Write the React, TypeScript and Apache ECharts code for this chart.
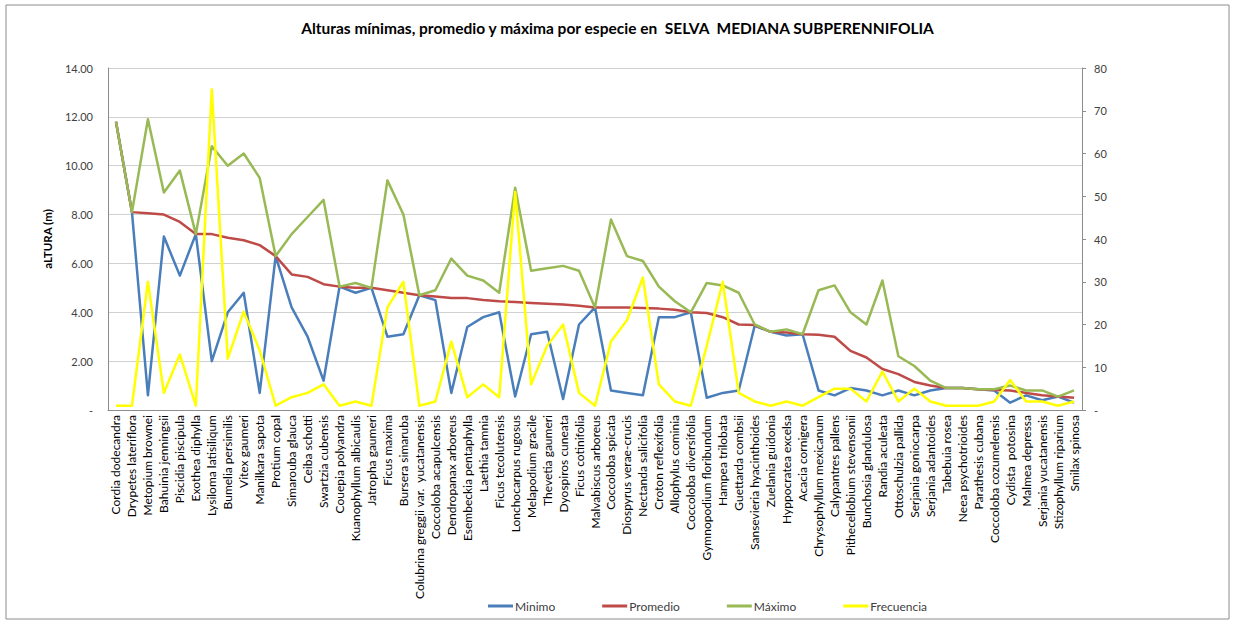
import React, { useEffect, useRef } from "react";
import * as echarts from "echarts";

const categories = [
  "Cordia dodecandra", "Drypetes lateriflora", "Metopium brownei", "Bahuinia jenningsii",
  "Piscidia piscipula", "Exothea diphylla", "Lysiloma latisiliqum", "Bumelia persimilis",
  "Vitex gaumeri", "Manilkara sapota", "Protium copal", "Simarouba glauca", "Ceiba schotti",
  "Swartzia cubensis", "Couepia polyandra", "Kuanophyllum albicaulis", "Jatropha gaumeri",
  "Ficus maxima", "Bursera simaruba", "Colubrina greggii var.  yucatanensis",
  "Coccoloba acapulcensis", "Dendropanax arboreus", "Esembeckia pentaphylla", "Laethia tamnia",
  "Ficus tecolutensis", "Lonchocarpus rugosus", "Melapodium gracile", "Thevetia gaumeri",
  "Dyospiros cuneata", "Ficus cotinifolia", "Malvabiscus arboreus", "Coccoloba spicata",
  "Diospyrus verae-crucis", "Nectanda salicifolia", "Croton reflexifolia", "Allophylus cominia",
  "Coccoloba diversifolia", "Gymnopodium floribundum", "Hampea trilobata", "Guettarda combsii",
  "Sansevieria hyacinthoides", "Zuelania guidonia", "Hyppocratea excelsa", "Acacia cornigera",
  "Chrysophyllum mexicanum", "Calypantres pallens", "Pithecellobium stevensonii",
  "Bunchosia glandulosa", "Randia aculeata", "Ottoschulzia pallida", "Serjania goniocarpa",
  "Serjania adantoides", "Tabebuia rosea", "Neea psychotrioides", "Parathesis cubana",
  "Coccoloba cozumelensis", "Cydista  potosina", "Malmea depressa", "Serjania yucatanensis",
  "Stizophyllum riparium", "Smilax spinosa",
];

const minimo = [
  11.8, 8.1, 0.6, 7.1, 5.5, 7.2, 2.0, 4.0, 4.8, 0.7,
  6.3, 4.2, 3.0, 1.2, 5.05, 4.8, 5.0, 3.0, 3.1, 4.7,
  4.5, 0.7, 3.4, 3.8, 4.0, 0.55, 3.1, 3.2, 0.45, 3.5,
  4.2, 0.8, 0.7, 0.6, 3.8, 3.8, 4.0, 0.5, 0.7, 0.8,
  3.45, 3.2, 3.05, 3.1, 0.8, 0.6, 0.9, 0.8, 0.6, 0.8,
  0.6, 0.8, 0.9, 0.9, 0.85, 0.8, 0.3, 0.6, 0.4, 0.55,
  0.3,
];

const promedio = [
  11.8, 8.1, 8.05, 8.0, 7.7, 7.2, 7.2, 7.05, 6.95, 6.75,
  6.3, 5.55, 5.45, 5.15, 5.05, 5.0, 5.0, 4.9, 4.8, 4.7,
  4.65, 4.58, 4.58, 4.5, 4.45, 4.42, 4.38, 4.35, 4.32, 4.27,
  4.2, 4.2, 4.2, 4.18, 4.15, 4.1, 4.0, 3.97, 3.8, 3.5,
  3.48, 3.2, 3.17, 3.1, 3.08, 3.0, 2.42, 2.15, 1.68, 1.47,
  1.15, 1.0, 0.9, 0.9, 0.85, 0.82, 0.8, 0.7, 0.6, 0.55,
  0.5,
];

const maximo = [
  11.8, 8.1, 11.9, 8.9, 9.8, 7.2, 10.8, 10.0, 10.5, 9.5,
  6.3, 7.2, 7.9, 8.6, 5.05, 5.2, 5.0, 9.4, 8.0, 4.7,
  4.9, 6.2, 5.5, 5.3, 4.8, 9.1, 5.7, 5.8, 5.9, 5.7,
  4.2, 7.8, 6.3, 6.1, 5.05, 4.45, 4.0, 5.2, 5.1, 4.8,
  3.5, 3.2, 3.3, 3.1, 4.9, 5.1, 4.0, 3.5, 5.3, 2.2,
  1.8, 1.2, 0.9, 0.9, 0.85, 0.85, 1.0, 0.8, 0.8, 0.55,
  0.8,
];

const frecuencia = [
  1, 1, 30, 4, 13, 1, 75, 12, 23, 14,
  1, 3, 4, 6, 1, 2, 1, 24, 30, 1,
  2, 16, 3, 6, 3, 51, 6, 15, 20, 4,
  1, 16, 21, 31, 6, 2, 1, 15, 30, 4,
  2, 1, 2, 1, 3, 5, 5, 2, 9, 2,
  5, 2, 1, 1, 1, 2, 7, 2, 2, 1,
  2,
];

const FONT = "Lato, 'Noto Sans', sans-serif";

export default function App() {
  const ref = useRef<HTMLDivElement>(null);
  useEffect(() => {
    if (!ref.current) return;
    const chart = echarts.init(ref.current, undefined, { renderer: "svg" });
    const line = (name: string, data: number[], color: string, yAxisIndex = 0) => ({
      name,
      type: "line",
      data,
      yAxisIndex,
      symbol: "none",
      lineStyle: { color, width: 2.5, join: "round" },
      itemStyle: { color },
    });
    chart.setOption({
      animation: false,
      backgroundColor: "#ffffff",
      textStyle: { fontFamily: FONT },
      title: {
        text: "Alturas mínimas, promedio y máxima por especie en  SELVA  MEDIANA SUBPERENNIFOLIA",
        left: "center",
        top: 15,
        textStyle: { fontFamily: FONT, fontSize: 15.5, fontWeight: "bold", color: "#000000" },
      },
      graphic: [
        {
          type: "rect",
          shape: { x: 6, y: 5, width: 1223, height: 614 },
          style: { fill: "none", stroke: "#8c8c8c", lineWidth: 1 },
          silent: true,
        },
      ],
      legend: {
        left: 483,
        top: 595,
        itemGap: 47,
        itemWidth: 25,
        itemHeight: 3,
        icon: "rect",
        textStyle: { fontFamily: FONT, fontSize: 12, color: "#404040", padding: [0, 0, 0, -3] },
        data: ["Minimo", "Promedio", "Máximo", "Frecuencia"],
      },
      grid: { left: 108, right: 153, top: 68, bottom: 214, containLabel: false },
      xAxis: {
        type: "category",
        data: categories,
        boundaryGap: true,
        axisLine: { show: true, lineStyle: { color: "#8c8c8c", width: 1 } },
        axisTick: { show: false },
        axisLabel: {
          interval: 0,
          rotate: 90,
          margin: 5,
          fontFamily: FONT,
          fontSize: 12,
          color: "#000000",
        },
      },
      yAxis: [
        {
          type: "value",
          min: 0,
          max: 14,
          interval: 2,
          name: "aLTURA (m)",
          nameLocation: "middle",
          nameGap: 52,
          nameTextStyle: { fontFamily: FONT, fontSize: 11.5, fontWeight: "bold", color: "#000000" },
          axisLine: { show: true, lineStyle: { color: "#8c8c8c", width: 1 } },
          axisTick: { show: false },
          splitLine: { show: true, lineStyle: { color: "#d0d0d0", width: 1 } },
          axisLabel: {
            margin: 15,
            fontFamily: FONT,
            fontSize: 11,
            color: "#404040",
            formatter: (v: number) => (v === 0 ? "-" : v.toFixed(2)),
          },
        },
        {
          type: "value",
          min: 0,
          max: 80,
          interval: 10,
          position: "right",
          axisLine: { show: true, lineStyle: { color: "#8c8c8c", width: 1 } },
          axisTick: { show: true, inside: false, length: 4, lineStyle: { color: "#8c8c8c" } },
          splitLine: { show: false },
          axisLabel: {
            margin: 12,
            fontFamily: FONT,
            fontSize: 11,
            color: "#404040",
            formatter: (v: number) => (v === 0 ? "-" : String(v)),
          },
        },
      ],
      series: [
        line("Minimo", minimo, "#4a7ebb"),
        line("Promedio", promedio, "#be4b48"),
        line("Máximo", maximo, "#98b954"),
        line("Frecuencia", frecuencia, "#ffff00", 1),
      ],
    });
    return () => chart.dispose();
  }, []);
  return (
    <div
      ref={ref}
      style={{ position: "fixed", left: 0, top: 0, width: 1235, height: 624 }}
    />
  );
}
